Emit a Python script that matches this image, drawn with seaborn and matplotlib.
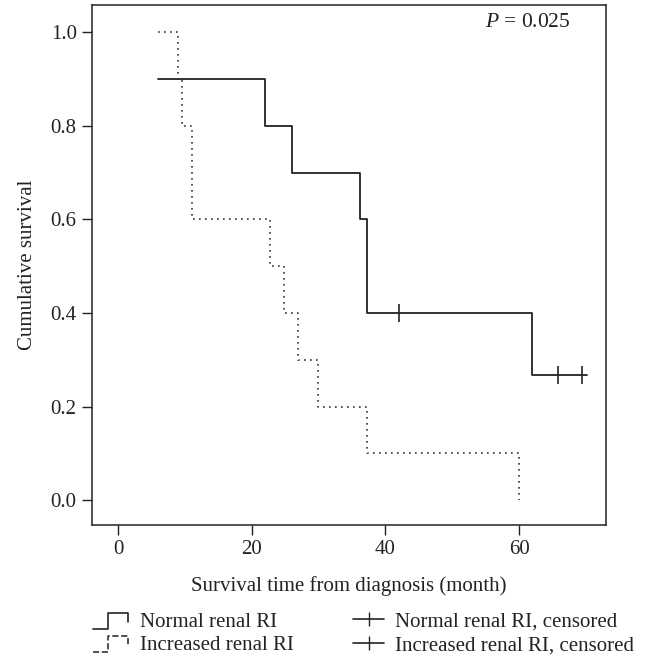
import numpy as np
import pandas as pd
import seaborn as sns
import matplotlib
matplotlib.use("Agg")
import matplotlib.pyplot as plt
from matplotlib.lines import Line2D
from matplotlib.legend_handler import HandlerBase

# Kaplan-Meier step values
normal_time = [6, 22, 26, 36.2, 37.2, 62, 70.2]
normal_surv = [0.9, 0.8, 0.7, 0.6, 0.4, 0.267, 0.267]
normal_cens_time = [42, 65.9, 69.4]
normal_cens_surv = [0.4, 0.267, 0.267]

incr_time = [6, 9.0, 9.6, 11, 22.8, 24.8, 27, 29.9, 37.2, 60]
incr_surv = [1.0, 0.9, 0.8, 0.6, 0.5, 0.4, 0.3, 0.2, 0.1, 0.0]

x_ticks = [0, 20, 40, 60]
y_ticks = [0.0, 0.2, 0.4, 0.6, 0.8, 1.0]

sns.set_theme(style='ticks')
plt.rcParams['font.family'] = ['Liberation Serif', 'DejaVu Serif']
plt.rcParams['mathtext.fontset'] = 'custom'
plt.rcParams['mathtext.it'] = 'Liberation Serif:italic'
plt.rcParams['mathtext.rm'] = 'Liberation Serif'

FS = 15
INK = '#222222'

df_normal = pd.DataFrame({'time': normal_time, 'surv': normal_surv})
df_incr = pd.DataFrame({'time': incr_time, 'surv': incr_surv})
df_cens = pd.DataFrame({'time': normal_cens_time, 'surv': normal_cens_surv})

fig = plt.figure(figsize=(6.56, 6.58), dpi=100)
ax = fig.add_axes([0.1402, 0.2021, 0.7835, 0.790])

dot_style = (0, (1, 2.6))
sns.lineplot(data=df_normal, x='time', y='surv', drawstyle='steps-post',
             color=INK, linewidth=1.3, estimator=None, ax=ax)
sns.lineplot(data=df_incr, x='time', y='surv', drawstyle='steps-post',
             color='#333333', linewidth=1.2, linestyle=dot_style,
             estimator=None, ax=ax)
sns.scatterplot(data=df_cens, x='time', y='surv', marker='|', s=150,
                color=INK, linewidth=1.2, ax=ax, zorder=3)

ax.set_xlim(-3.9, 73.0)
ax.set_ylim(-0.053, 1.058)
ax.set_xticks(x_ticks)
ax.set_yticks(y_ticks)
ax.set_yticklabels([f'{v:.1f}' for v in y_ticks])
ax.tick_params(direction='out', length=7, width=1, labelsize=FS, colors=INK, pad=4)
for s in ax.spines.values():
    s.set_visible(True)
    s.set_linewidth(1.1)
    s.set_color(INK)

ax.set_xlabel('Survival time from diagnosis (month)', fontsize=FS, color=INK, labelpad=12)
ax.set_ylabel('Cumulative survival', fontsize=FS, color=INK, labelpad=10)

ax.text(54.9, 1.021, r'$P$ = 0.025', fontsize=FS + 0.5, ha='left', va='center', color=INK)


class StepHandler(HandlerBase):
    def create_artists(self, legend, orig_handle, xdescent, ydescent,
                       width, height, fontsize, trans):
        xs = np.array([0, 0.42, 0.42, 0.95, 0.95]) * width - xdescent
        ys = np.array([-0.15, -0.15, 0.95, 0.95, 0.3]) * height - ydescent
        line = Line2D(xs, ys, color=orig_handle.get_color(),
                      lw=orig_handle.get_linewidth(),
                      ls=orig_handle.get_linestyle())
        line.set_transform(trans)
        return [line]


h_normal = Line2D([], [], color=INK, lw=1.2)
h_incr = Line2D([], [], color='#333333', lw=1.2, ls=(0, (1, 3.2)))
h_cens1 = Line2D([0], [0], color=INK, lw=1.2, marker='|', markersize=10)
h_cens2 = Line2D([0], [0], color=INK, lw=1.2, marker='|', markersize=10)

leg_kw = dict(loc='upper left', frameon=False, fontsize=FS, handletextpad=0.5,
              labelspacing=0.2, borderpad=0, borderaxespad=0, labelcolor=INK)
fig.legend([h_normal, h_incr], ['Normal renal RI', 'Increased renal RI'],
           handler_map={h_normal: StepHandler(), h_incr: StepHandler()},
           bbox_to_anchor=(93 / 656, 0.070), handlelength=1.75, **leg_kw)
fig.legend([h_cens1, h_cens2],
           ['Normal renal RI, censored', 'Increased renal RI, censored'],
           bbox_to_anchor=(353 / 656, 0.070), handlelength=1.5, **leg_kw)

plt.savefig('out.png', dpi=100)
